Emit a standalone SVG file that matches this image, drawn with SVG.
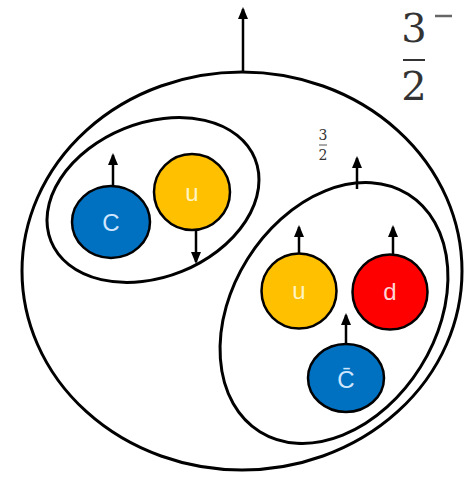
<svg xmlns="http://www.w3.org/2000/svg" width="475" height="478" viewBox="0 0 475 478">
<defs>
<marker id="ah" viewBox="0 0 12 10" refX="10" refY="5" markerWidth="12" markerHeight="10" markerUnits="userSpaceOnUse" orient="auto"><path d="M0,0 L12,5 L0,10 Z" fill="#000"/></marker>
<style>
.ring{fill:none;stroke:#000;stroke-width:3}
.spin{stroke:#000;stroke-width:2.5;marker-end:url(#ah)}
.q{stroke:#000;stroke-width:2.5}
.ql{font-family:"Liberation Sans",Arial,sans-serif;font-size:24px;text-anchor:middle}
.frac{font-family:"DejaVu Serif","Liberation Serif",serif;text-anchor:middle;fill:#333}
</style>
</defs>
<rect width="475" height="478" fill="#fff"/>
<g id="baryon"><ellipse class="ring" cx="242" cy="271" rx="220" ry="199"/></g>
<g id="diquark"><ellipse class="ring" cx="153" cy="200" rx="110" ry="77" transform="rotate(-22 153 200)"/></g>
<g id="triquark"><ellipse class="ring" cx="334" cy="313" rx="140" ry="102" transform="rotate(-58 334 313)"/></g>
<g id="q-c"><ellipse class="q" cx="111" cy="222" rx="39" ry="36" fill="#0070c0"/><text class="ql" x="111" y="231" fill="#cfe6ff">C</text></g>
<g id="q-u1"><circle class="q" cx="192" cy="192" r="38" fill="#ffc000"/><text class="ql" x="192" y="201" fill="#fff4c4">u</text></g>
<g id="q-u2"><circle class="q" cx="299" cy="291" r="37.5" fill="#ffc000"/><text class="ql" x="299" y="299" fill="#fff4c4">u</text></g>
<g id="q-d"><circle class="q" cx="390" cy="292" r="37.5" fill="#ff0000"/><text class="ql" x="390" y="300" fill="#ffd6d6">d</text></g>
<g id="q-cbar"><ellipse class="q" cx="346" cy="378" rx="38" ry="34" fill="#0070c0"/><text class="ql" x="346" y="388" fill="#cfe6ff">C̄</text></g>
<g id="spins">
<line class="spin" x1="243" y1="72" x2="243" y2="9"/>
<line class="spin" x1="357" y1="189" x2="357" y2="158"/>
<line class="spin" x1="113" y1="186" x2="113" y2="155"/>
<line class="spin" x1="196" y1="230" x2="196" y2="262"/>
<line class="spin" x1="299" y1="253" x2="299" y2="227"/>
<line class="spin" x1="393" y1="255" x2="393" y2="227"/>
<line class="spin" x1="346" y1="344" x2="346" y2="315"/>
</g>
<g id="labels">
<text class="frac" x="414" y="42" font-size="40" fill="#222">3</text>
<line x1="403" y1="60" x2="425" y2="60" stroke="#333" stroke-width="2"/>
<text class="frac" x="414" y="100" font-size="40">2</text>
<line x1="435" y1="16" x2="452" y2="16" stroke="#666" stroke-width="2.5"/>
<text class="frac" x="323" y="140" font-size="14">3</text>
<line x1="319" y1="145" x2="327" y2="145" stroke="#555" stroke-width="1"/>
<text class="frac" x="323" y="160" font-size="14">2</text>
</g>
</svg>
